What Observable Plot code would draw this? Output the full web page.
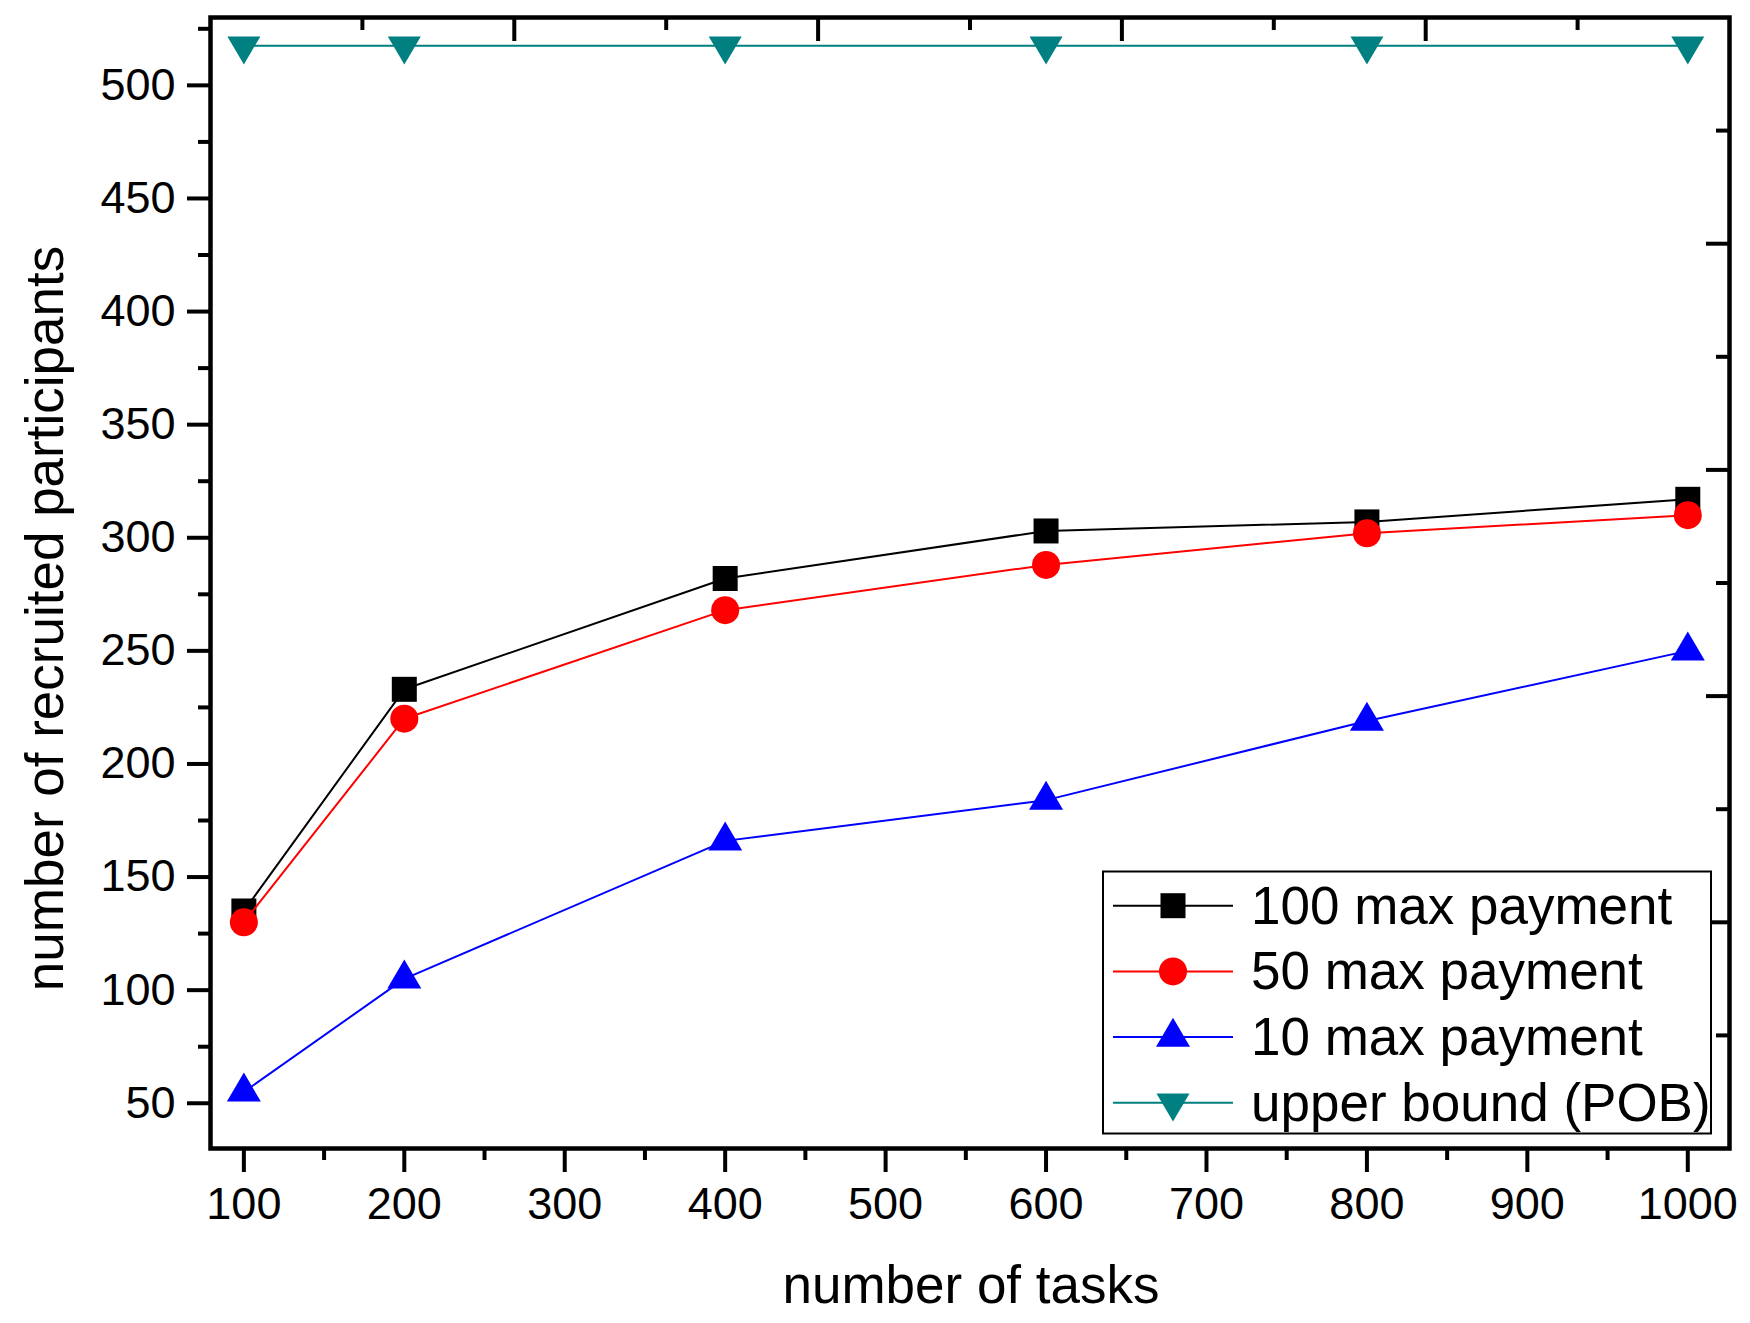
<!DOCTYPE html>
<html>
<head>
<meta charset="utf-8">
<script src="https://cdn.jsdelivr.net/npm/d3@7"></script>
<script src="https://cdn.jsdelivr.net/npm/@observablehq/plot@0.6"></script>
<style>
  html, body { margin: 0; padding: 0; background: #fff; overflow: hidden; }
  #chart { width: 1750px; height: 1323px; }
</style>
</head>
<body>
<div id="chart"></div>
<script>
// ---- data ----
const tasks = [100, 200, 400, 600, 800, 1000];
const pay100 = [135, 233, 282, 303, 307, 317];
const pay50 = [130, 220, 268, 288, 302, 310];
const pay10 = [55, 105, 166, 184, 219, 250];
const upperBound = [517.5, 517.5, 517.5, 517.5, 517.5, 517.5];

const seriesNames = ["100 max payment", "50 max payment", "10 max payment", "upper bound (POB)"];
const seriesColors = ["#000000", "#ff0000", "#0000ff", "#008080"];
const seriesValues = [pay100, pay50, pay10, upperBound];

// ---- ticks ----
const xMajor = [100, 200, 300, 400, 500, 600, 700, 800, 900, 1000];
const xMinor = [150, 250, 350, 450, 550, 650, 750, 850, 950];
const yMajor = [50, 100, 150, 200, 250, 300, 350, 400, 450, 500];
const yMinor = [75, 125, 175, 225, 275, 325, 375, 425, 475, 525];
const topMajor = [268.56, 457.92, 647.28, 836.64];
const topMinor = [173.88, 363.24, 552.6, 741.96, 931.32];
const rightMajor = [130, 230, 330, 430];
const rightMinor = [80, 180, 280, 380, 480];

// ---- layout ----
const W = 1750, H = 1323;
const mL = 210, mR = 21, mT = 17, mB = 175;
const innerW = W - mL - mR, innerH = H - mT - mB;
const font = "'Liberation Sans', Arial, Helvetica, sans-serif";

// ---- symbols ----
const symSquare = { draw(ctx) { const s = 12.5; ctx.moveTo(-s, -s); ctx.lineTo(s, -s); ctx.lineTo(s, s); ctx.lineTo(-s, s); ctx.closePath(); } };
const symCircle = { draw(ctx) { const r = 14; ctx.moveTo(r, 0); ctx.arc(0, 0, r, 0, 2 * Math.PI); ctx.closePath(); } };
const symUp = { draw(ctx) { ctx.moveTo(0, -19.33); ctx.lineTo(17, 9.67); ctx.lineTo(-17, 9.67); ctx.closePath(); } };
const symDown = { draw(ctx) { ctx.moveTo(-16.5, -9.33); ctx.lineTo(16.5, -9.33); ctx.lineTo(0, 18.67); ctx.closePath(); } };
const seriesSymbols = [symSquare, symCircle, symUp, symDown];

const seriesMarks = [];
seriesValues.forEach((vals, i) => {
  const rows = tasks.map((t, j) => ({ x: t, y: vals[j] }));
  seriesMarks.push(Plot.line(rows, { x: "x", y: "y", stroke: seriesColors[i], strokeWidth: 2 }));
  seriesMarks.push(Plot.dot(rows, { x: "x", y: "y", symbol: seriesSymbols[i], r: 14, fill: seriesColors[i], stroke: "none" }));
});

const tk = { stroke: "#000", strokeWidth: 4 };

const chart = Plot.plot({
  width: W, height: H,
  marginLeft: mL, marginRight: mR, marginTop: mT, marginBottom: mB,
  style: { fontFamily: font, fontSize: "45px", color: "#000", background: "#fff" },
  x: { domain: [79.2, 1026], label: null },
  y: { domain: [30, 530], label: null },
  marks: [
    // outward ticks left & bottom
    Plot.axisY(yMajor, { anchor: "left", tickSize: 23, tickPadding: 12, strokeWidth: 4, fontSize: 45, label: null, tickFormat: d => String(d) }),
    Plot.tickY(yMinor, { y: d => d, ...tk, insetLeft: -12, insetRight: innerW }),
    Plot.axisX(xMajor, { anchor: "bottom", tickSize: 24, tickPadding: 15, strokeWidth: 4, fontSize: 45, label: null, tickFormat: d => String(d) }),
    Plot.tickX(xMinor, { x: d => d, ...tk, insetTop: innerH, insetBottom: -12 }),
    // inward ticks top & right
    Plot.tickX(topMajor, { x: d => d, ...tk, insetBottom: innerH - 24 }),
    Plot.tickX(topMinor, { x: d => d, ...tk, insetBottom: innerH - 13 }),
    Plot.tickY(rightMajor, { y: d => d, ...tk, insetLeft: innerW - 23 }),
    Plot.tickY(rightMinor, { y: d => d, ...tk, insetLeft: innerW - 13 }),
    ...seriesMarks,
    Plot.frame({ stroke: "#000", strokeWidth: 4.5 }),
    // axis titles
    Plot.text(["number of recruited participants"], {
      frameAnchor: "left", rotate: -90, textAnchor: "middle", lineAnchor: "middle",
      dx: -164, dy: 35.5, fontSize: 53, fill: "#000"
    }),
    Plot.text(["number of tasks"], {
      frameAnchor: "bottom", textAnchor: "middle", lineAnchor: "middle",
      dx: 1, dy: 138, fontSize: 53, fill: "#000"
    })
  ]
});

document.getElementById("chart").appendChild(chart);

// ---- legend (inside plot area) ----
const svg = d3.select(chart);
const lg = svg.append("g").attr("class", "legend");
const box = { x: 1103, y: 871.5, w: 608, h: 262 };
lg.append("rect").attr("x", box.x).attr("y", box.y).attr("width", box.w).attr("height", box.h)
  .attr("fill", "#fff").attr("stroke", "#000").attr("stroke-width", 2);
seriesNames.forEach((name, i) => {
  const cy = 905.7 + i * 65.7;
  lg.append("line").attr("x1", 1113).attr("x2", 1233).attr("y1", cy).attr("y2", cy)
    .attr("stroke", seriesColors[i]).attr("stroke-width", 2);
  const p = d3.path();
  seriesSymbols[i].draw(p, 0);
  lg.append("path").attr("d", p.toString()).attr("transform", `translate(1173,${cy})`)
    .attr("fill", seriesColors[i]);
  lg.append("text").attr("x", 1251).attr("y", cy + 18).attr("font-size", 53)
    .attr("text-anchor", "start")
    .attr("font-family", font).attr("fill", "#000").text(name);
});
</script>
</body>
</html>
